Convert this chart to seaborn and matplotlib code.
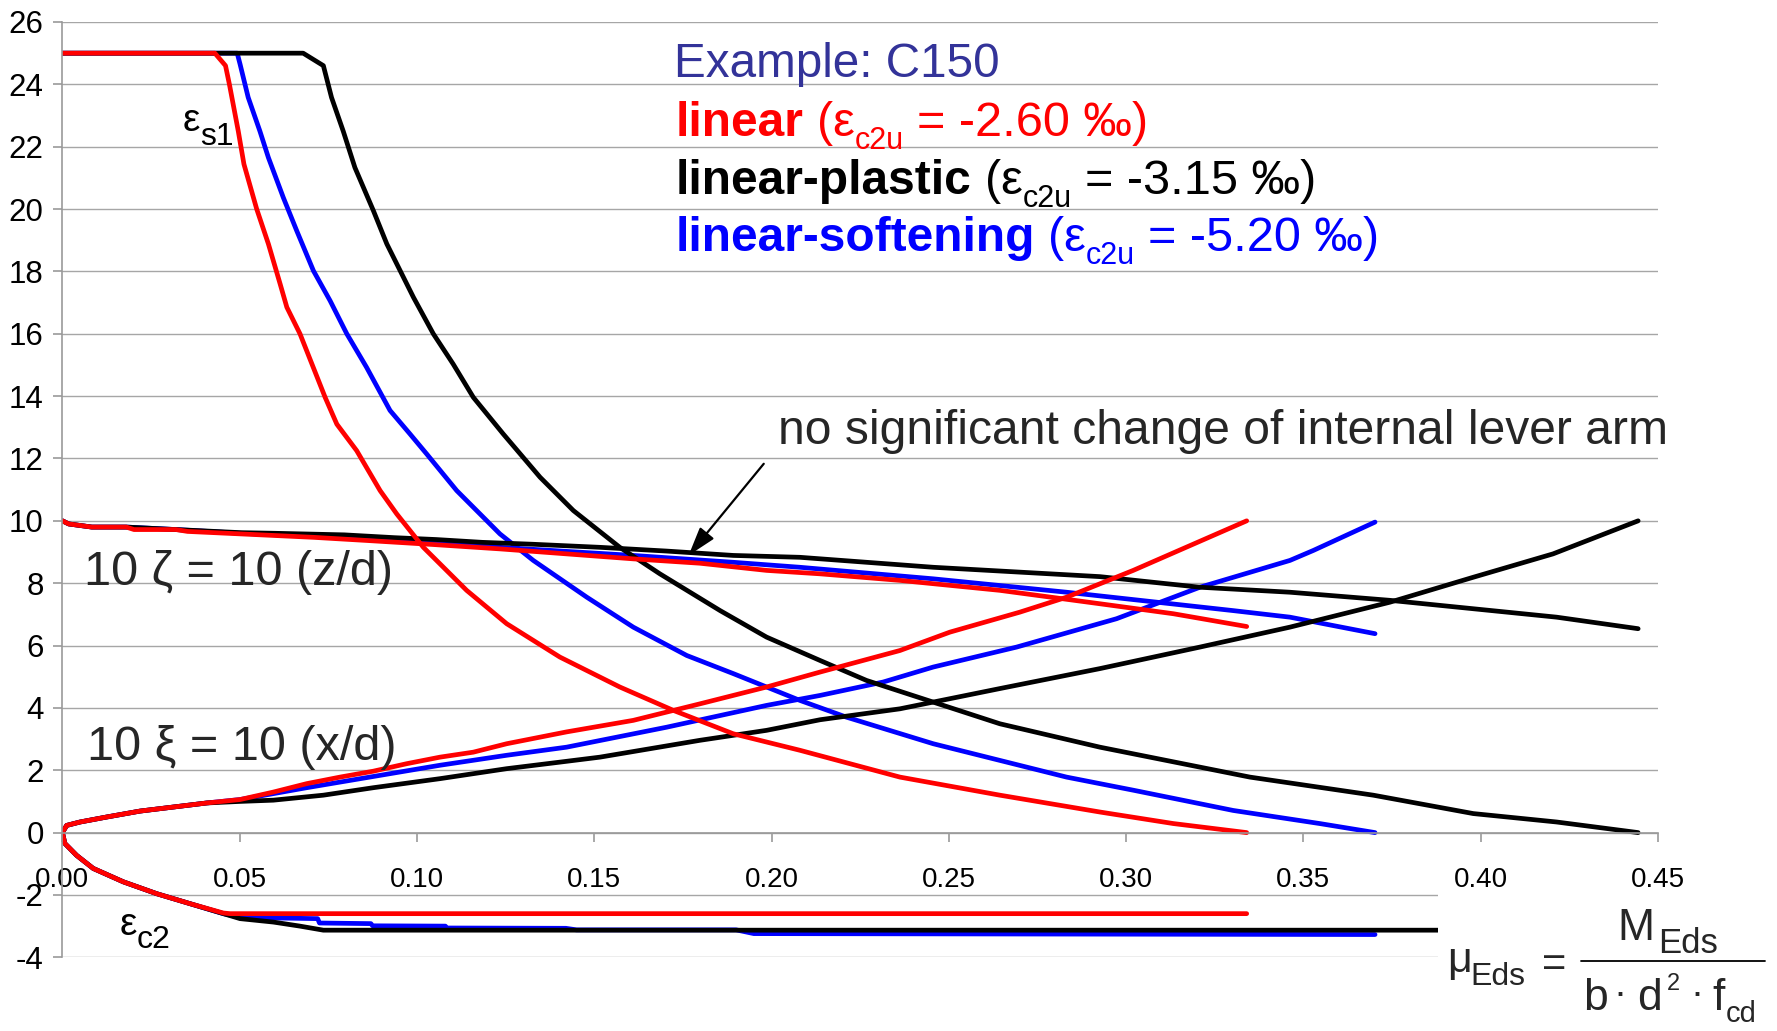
import numpy as np
import pandas as pd
import seaborn as sns
import matplotlib.pyplot as plt
import matplotlib.transforms as mtransforms
from matplotlib.patches import Rectangle
from matplotlib.lines import Line2D

# ---- data (x = mu_Eds) ----
x_ticks = [0.00, 0.05, 0.10, 0.15, 0.20, 0.25, 0.30, 0.35, 0.40, 0.45]
y_ticks = [-4, -2, 0, 2, 4, 6, 8, 10, 12, 14, 16, 18, 20, 22, 24, 26]

# linear (red)
lin_es1_mu = [0, 0.043, 0.046, 0.0471, 0.0496, 0.0512, 0.0548, 0.0581, 0.0614, 0.0633, 0.067, 0.0741,
              0.0774, 0.083, 0.0896, 0.0943, 0.1018, 0.114, 0.1253, 0.1403, 0.1572, 0.1723, 0.1892,
              0.208, 0.2362, 0.2644, 0.2926, 0.3133, 0.334]
lin_es1 = [25, 25, 24.6, 24.0, 22.5, 21.44, 20.0, 18.88, 17.6, 16.85, 16.0, 13.96, 13.1, 12.25, 10.97,
           10.22, 9.15, 7.77, 6.7, 5.63, 4.67, 3.92, 3.17, 2.64, 1.78, 1.2, 0.66, 0.29, 0.0]
lin_zeta_mu = [0, 0.0018, 0.0083, 0.018, 0.0202, 0.032, 0.0353, 0.0504, 0.0709, 0.0858, 0.1046, 0.1234,
               0.1422, 0.161, 0.1798, 0.1986, 0.2137, 0.2362, 0.2644, 0.2926, 0.3133, 0.334]
lin_zeta = [10, 9.9, 9.8, 9.8, 9.72, 9.72, 9.66, 9.58, 9.47, 9.37, 9.24, 9.1, 8.94, 8.78, 8.64, 8.41,
            8.3, 8.09, 7.77, 7.34, 7.02, 6.61]
lin_xi_mu = [0, 0.0012, 0.005, 0.0125, 0.0219, 0.0313, 0.0407, 0.0501, 0.0595, 0.0689, 0.0783, 0.0877,
             0.0971, 0.1065, 0.1159, 0.1253, 0.1422, 0.161, 0.1798, 0.1986, 0.2137, 0.2362, 0.2503,
             0.27, 0.2832, 0.302, 0.334]
lin_xi = [0, 0.23, 0.34, 0.5, 0.69, 0.82, 0.95, 1.06, 1.3, 1.57, 1.78, 1.97, 2.21, 2.42, 2.58, 2.85,
          3.23, 3.6, 4.13, 4.67, 5.15, 5.84, 6.43, 7.07, 7.55, 8.41, 10.0]
lin_ec2_mu = [0, 0.0007, 0.004, 0.0087, 0.0172, 0.0266, 0.036, 0.0454, 0.0473, 0.334]
lin_ec2 = [0, -0.35, -0.73, -1.15, -1.58, -1.96, -2.28, -2.58, -2.6, -2.6]

# linear-plastic (black)
pla_es1_mu = [0, 0.0679, 0.0736, 0.0759, 0.0792, 0.0825, 0.0877, 0.0915, 0.099, 0.1046, 0.1102, 0.1159,
              0.1243, 0.1347, 0.1441, 0.1572, 0.1685, 0.1855, 0.1986, 0.2137, 0.2268, 0.2644, 0.2926,
              0.3349, 0.3697, 0.3979, 0.4214, 0.4444]
pla_es1 = [25, 25, 24.6, 23.58, 22.5, 21.33, 19.95, 18.88, 17.17, 16.0, 15.03, 13.96, 12.79, 11.4,
           10.33, 9.15, 8.3, 7.12, 6.27, 5.52, 4.88, 3.49, 2.74, 1.78, 1.2, 0.61, 0.34, 0.0]
pla_zeta_mu = [0, 0.0018, 0.0083, 0.018, 0.032, 0.0504, 0.0601, 0.0795, 0.0936, 0.1054, 0.1184, 0.1324,
               0.1516, 0.1704, 0.1892, 0.208, 0.2456, 0.2926, 0.3208, 0.3462, 0.3744, 0.3979, 0.4214,
               0.4444]
pla_zeta = [10, 9.9, 9.8, 9.8, 9.72, 9.62, 9.6, 9.55, 9.46, 9.4, 9.31, 9.25, 9.15, 9.03, 8.89, 8.83,
            8.51, 8.21, 7.87, 7.71, 7.45, 7.18, 6.91, 6.54]
pla_xi_mu = [0, 0.0012, 0.005, 0.0125, 0.0219, 0.0313, 0.0407, 0.0501, 0.0595, 0.0736, 0.0877, 0.1065,
             0.1253, 0.1403, 0.1516, 0.1798, 0.1986, 0.2137, 0.2362, 0.2644, 0.2926, 0.3208, 0.3462,
             0.3744, 0.3979, 0.4204, 0.4444]
pla_xi = [0, 0.23, 0.34, 0.5, 0.69, 0.82, 0.95, 1.0, 1.04, 1.2, 1.44, 1.73, 2.05, 2.26, 2.42, 2.96,
          3.28, 3.62, 3.97, 4.62, 5.26, 5.95, 6.59, 7.39, 8.19, 8.94, 10.0]
pla_ec2_mu = [0, 0.0007, 0.004, 0.0087, 0.0172, 0.0266, 0.036, 0.0454, 0.0501, 0.0595, 0.067, 0.0736,
              0.4444]
pla_ec2 = [0, -0.35, -0.73, -1.15, -1.58, -1.96, -2.28, -2.6, -2.76, -2.87, -3.0, -3.13, -3.13]

# linear-softening (blue)
sof_es1_mu = [0, 0.0493, 0.0501, 0.0524, 0.0557, 0.0581, 0.0623, 0.0661, 0.0708, 0.0755, 0.0802,
              0.0858, 0.0924, 0.098, 0.1027, 0.1112, 0.1234, 0.1328, 0.1479, 0.161, 0.1761, 0.1892,
              0.208, 0.2212, 0.2456, 0.2832, 0.302, 0.3302, 0.3546, 0.3702]
sof_es1 = [25, 25, 24.65, 23.58, 22.5, 21.65, 20.37, 19.3, 18.02, 17.06, 16.0, 14.92, 13.54, 12.79,
           12.15, 10.97, 9.58, 8.73, 7.55, 6.59, 5.68, 5.1, 4.24, 3.7, 2.85, 1.78, 1.36, 0.71, 0.29, 0.0]
sof_zeta_mu = [0, 0.0018, 0.0083, 0.018, 0.032, 0.0504, 0.0709, 0.0925, 0.1098, 0.1234, 0.1422, 0.161,
               0.1892, 0.208, 0.2456, 0.2832, 0.3302, 0.3462, 0.3702]
sof_zeta = [10, 9.9, 9.8, 9.8, 9.72, 9.6, 9.5, 9.38, 9.25, 9.15, 9.02, 8.89, 8.67, 8.51, 8.14, 7.71,
            7.12, 6.91, 6.38]
sof_xi_mu = [0, 0.0012, 0.005, 0.0125, 0.0219, 0.0313, 0.0407, 0.0501, 0.0689, 0.0877, 0.1065, 0.1253,
             0.1422, 0.1704, 0.1986, 0.2137, 0.2315, 0.2456, 0.2691, 0.2973, 0.3208, 0.3462, 0.3528,
             0.3702]
sof_xi = [0, 0.23, 0.34, 0.5, 0.69, 0.82, 0.95, 1.06, 1.44, 1.8, 2.16, 2.48, 2.74, 3.38, 4.08, 4.4,
          4.83, 5.31, 5.95, 6.86, 7.87, 8.73, 9.05, 9.96]
sof_ec2_mu = [0, 0.0007, 0.004, 0.0087, 0.0172, 0.0266, 0.036, 0.0454, 0.0501, 0.072, 0.0725, 0.087,
              0.0875, 0.108, 0.1085, 0.142, 0.145, 0.19, 0.195, 0.3702]
sof_ec2 = [0, -0.35, -0.73, -1.15, -1.58, -1.96, -2.28, -2.6, -2.72, -2.76, -2.9, -2.92, -2.99, -3.0,
           -3.06, -3.07, -3.12, -3.12, -3.24, -3.27]

models = ['linear-softening', 'linear-plastic', 'linear']
palette = {'linear': '#ff0000', 'linear-plastic': '#000000', 'linear-softening': '#0000ff'}

series = {
    ('linear', 'eps_s1'): (lin_es1_mu, lin_es1),
    ('linear', 'zeta'): (lin_zeta_mu, lin_zeta),
    ('linear', 'xi'): (lin_xi_mu, lin_xi),
    ('linear', 'eps_c2'): (lin_ec2_mu, lin_ec2),
    ('linear-plastic', 'eps_s1'): (pla_es1_mu, pla_es1),
    ('linear-plastic', 'zeta'): (pla_zeta_mu, pla_zeta),
    ('linear-plastic', 'xi'): (pla_xi_mu, pla_xi),
    ('linear-plastic', 'eps_c2'): (pla_ec2_mu, pla_ec2),
    ('linear-softening', 'eps_s1'): (sof_es1_mu, sof_es1),
    ('linear-softening', 'zeta'): (sof_zeta_mu, sof_zeta),
    ('linear-softening', 'xi'): (sof_xi_mu, sof_xi),
    ('linear-softening', 'eps_c2'): (sof_ec2_mu, sof_ec2),
}
frames = []
for (model, curve), (xs, ys) in series.items():
    frames.append(pd.DataFrame({'mu': xs, 'value': ys, 'model': model, 'curve': curve}))
df = pd.concat(frames, ignore_index=True)

# ---- style ----
sns.set_theme(style='white')
plt.rcParams['font.family'] = ['Liberation Sans', 'DejaVu Sans']
plt.rcParams['axes.unicode_minus'] = False

W, H = 1777, 1031
fig = plt.figure(figsize=(W / 100, H / 100), dpi=100)
ax = fig.add_axes([62.4 / W, 1 - 957.3 / H, (1658 - 62.4) / W, (957.3 - 22) / H])

gray = '#999999'
ax.yaxis.grid(True, color='#a6a6a6', linewidth=1.0)
ax.xaxis.grid(False)
ax.set_axisbelow(True)

sns.lineplot(data=df, x='mu', y='value', hue='model', units='curve', estimator=None, sort=False,
             hue_order=models, palette=palette, linewidth=3.4, legend=False, ax=ax)
for line in ax.lines:
    line.set_linewidth(3.4)
    line.set_solid_capstyle('round')
    line.set_solid_joinstyle('round')

ax.set_xlim(0, 0.45)
ax.set_ylim(-4, 26)
ax.set_xticks(x_ticks)
ax.set_xticklabels([f'{v:.2f}' for v in x_ticks])
ax.set_yticks(y_ticks)
ax.set_yticklabels([str(v) for v in y_ticks])
ax.set_xlabel('')
ax.set_ylabel('')

for side in ['top', 'right']:
    ax.spines[side].set_visible(False)
ax.spines['bottom'].set_position(('data', 0))
ax.spines['bottom'].set_color(gray)
ax.spines['left'].set_color(gray)
ax.spines['bottom'].set_linewidth(1.2)
ax.spines['left'].set_linewidth(1.2)
ax.tick_params(axis='x', direction='out', length=6.5, width=1.2, color=gray, pad=18,
               labelsize=20, labelcolor='black', bottom=True)
ax.tick_params(axis='y', direction='out', length=6.5, width=1.2, color=gray, pad=7,
               labelsize=22.5, labelcolor='black', left=True)

renderer = fig.canvas.get_renderer()


def pieces_text(x, y, pieces):
    # draw text pieces one after another on a common baseline (data coords)
    dx = 0.0
    for s, kw in pieces:
        kw = dict(kw)
        dx += kw.pop('gap', 0)
        dy = kw.pop('dy', 0)
        tr = mtransforms.offset_copy(ax.transData, fig=fig, x=dx, y=dy, units='points')
        t = ax.text(x, y, s, transform=tr, ha='left', va='baseline', **kw)
        dx += t.get_window_extent(renderer).width * 72 / fig.dpi


# legend block
ax.text(0.1725, 24.22, 'Example: C150', fontsize=34.3, color='#333399', va='baseline')
legend_lines = [
    ('linear', '-2.60', palette['linear'], 22.35),
    ('linear-plastic', '-3.15', palette['linear-plastic'], 20.48),
    ('linear-softening', '-5.20', palette['linear-softening'], 18.66),
]
for name, val, col, yb in legend_lines:
    pieces_text(0.173, yb, [
        (name, dict(fontsize=34.5, fontweight='bold', color=col)),
        ('(\u03b5', dict(fontsize=35, color=col, gap=9.5)),
        ('c2u', dict(fontsize=22, color=col, dy=-9.5)),
        ('= ' + val + ' \u2030)', dict(fontsize=35, color=col, gap=9.5)),
    ])

# curve labels
pieces_text(0.034, 22.51, [('\u03b5', dict(fontsize=28, color='black')),
                           ('s1', dict(fontsize=23, color='black', dy=-10.5))])
pieces_text(0.016, -3.29, [('\u03b5', dict(fontsize=28, color='black')),
                           ('c2', dict(fontsize=23, color='black', dy=-9.6))])
ax.text(0.006, 7.93, '10 \u03b6 = 10 (z/d)', fontsize=35, va='baseline')
ax.text(0.0068, 2.32, '10 \u03be = 10 (x/d)', fontsize=35, va='baseline')
ax.text(0.2017, 12.47, 'no significant change of internal lever arm', fontsize=34.6, va='baseline')
ax.annotate('', xy=(0.1766, 8.89), xytext=(0.1978, 11.83),
            arrowprops=dict(arrowstyle='-|>,head_length=0.8,head_width=0.25', color='black',
                            lw=1.6, mutation_scale=22, shrinkA=0, shrinkB=0))

# formula box (covers the axis corner, as in the original)
fig.add_artist(Rectangle((1438 / W, 0), 1 - 1438 / W, (H - 888) / H, transform=fig.transFigure,
                         facecolor='white', edgecolor='none', zorder=1))


def ftext(xc, y, s, size):
    # centred on xc, baseline at y (figure pixels from top-left)
    fig.text(xc / W, 1 - y / H, s, fontsize=size, ha='center', va='baseline', zorder=4)


ftext(1460, 972, '\u03bc', 31)
ftext(1497.5, 985, 'Eds', 23)
ftext(1554.5, 976, '=', 30)
ftext(1636, 940, 'M', 32)
ftext(1688.5, 953, 'Eds', 25)
fig.add_artist(Line2D([1581 / W, 1765 / W], [1 - 961 / H, 1 - 961 / H], transform=fig.transFigure,
                      color='black', linewidth=1.3, zorder=4))
ftext(1595, 1010, 'b', 32)
ftext(1620, 1005, '\u00b7', 28)
ftext(1649.5, 1010, 'd', 32)
ftext(1673, 990, '2', 17)
ftext(1697, 1005, '\u00b7', 28)
ftext(1719, 1010, 'f', 32)
ftext(1741.5, 1021.7, 'cd', 21)

fig.savefig('out.png', dpi=100)
